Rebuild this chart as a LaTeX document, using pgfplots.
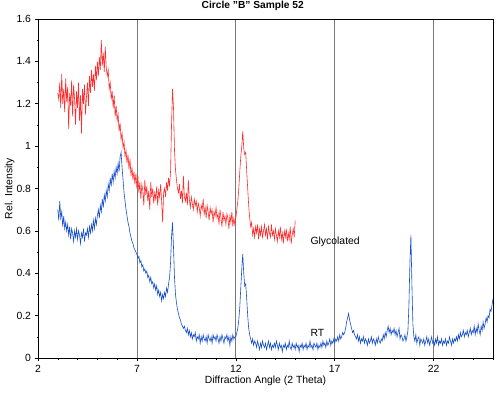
\documentclass[border=0pt]{standalone}
\usepackage{fontspec}
\setmainfont{Liberation Sans}
\usepackage{pgfplots}
\pgfplotsset{compat=1.18}
\usepackage{pgfplotstable}
\definecolor{glyred}{RGB}{255,45,45}
\definecolor{rtblue}{RGB}{25,80,205}
\definecolor{gridgray}{RGB}{120,120,120}

% Glycolated: x = 3.00 + 0.05*i
\pgfplotstableread[row sep=\\]{y\\
1.25\\1.22\\1.30\\1.18\\1.34\\1.20\\1.27\\1.16\\1.32\\1.21\\
1.28\\1.08\\1.25\\1.19\\1.31\\1.14\\1.29\\1.22\\1.10\\1.26\\
1.18\\1.30\\1.12\\1.24\\1.06\\1.27\\1.20\\1.29\\1.15\\1.23\\
1.30\\1.19\\1.33\\1.25\\1.36\\1.28\\1.34\\1.26\\1.38\\1.31\\
1.40\\1.33\\1.42\\1.36\\1.50\\1.38\\1.44\\1.35\\1.47\\1.37\\
1.33\\1.36\\1.27\\1.30\\1.22\\1.26\\1.18\\1.24\\1.14\\1.19\\
1.12\\1.15\\1.07\\1.11\\1.03\\1.06\\0.99\\1.02\\0.95\\0.98\\
0.92\\0.96\\0.89\\0.94\\0.86\\0.90\\0.84\\0.88\\0.82\\0.87\\
0.80\\0.86\\0.78\\0.83\\0.75\\0.82\\0.79\\0.72\\0.84\\0.77\\
0.81\\0.74\\0.79\\0.70\\0.83\\0.76\\0.80\\0.73\\0.78\\0.75\\
0.81\\0.72\\0.79\\0.76\\0.82\\0.74\\0.64\\0.78\\0.80\\0.76\\
0.83\\0.79\\0.85\\0.81\\0.88\\1.10\\1.27\\1.18\\0.98\\0.89\\
0.84\\0.80\\0.78\\0.82\\0.75\\0.79\\0.73\\0.86\\0.76\\0.74\\
0.78\\0.72\\0.84\\0.75\\0.71\\0.76\\0.73\\0.70\\0.75\\0.72\\
0.74\\0.69\\0.73\\0.71\\0.67\\0.72\\0.70\\0.75\\0.68\\0.71\\
0.66\\0.72\\0.69\\0.65\\0.71\\0.68\\0.70\\0.64\\0.69\\0.67\\
0.71\\0.66\\0.68\\0.63\\0.70\\0.66\\0.62\\0.69\\0.65\\0.67\\
0.63\\0.68\\0.66\\0.61\\0.67\\0.64\\0.69\\0.62\\0.66\\0.63\\
0.66\\0.70\\0.74\\0.80\\0.88\\0.95\\1.00\\1.07\\0.99\\0.96\\
0.97\\0.88\\0.80\\0.72\\0.66\\0.62\\0.64\\0.58\\0.61\\0.57\\
0.62\\0.59\\0.63\\0.56\\0.61\\0.58\\0.62\\0.57\\0.60\\0.63\\
0.58\\0.61\\0.56\\0.62\\0.59\\0.57\\0.63\\0.58\\0.60\\0.56\\
0.61\\0.58\\0.55\\0.60\\0.57\\0.62\\0.56\\0.59\\0.54\\0.60\\
0.57\\0.61\\0.55\\0.59\\0.56\\0.62\\0.54\\0.58\\0.61\\0.57\\
0.65\\
}\glyc

% RT: x = 3.00 + 0.05*i
\pgfplotstableread[row sep=\\]{y\\
0.70\\0.65\\0.74\\0.66\\0.69\\0.62\\0.67\\0.61\\0.64\\0.60\\
0.63\\0.58\\0.62\\0.56\\0.61\\0.59\\0.55\\0.60\\0.57\\0.61\\
0.56\\0.60\\0.58\\0.54\\0.59\\0.57\\0.61\\0.55\\0.59\\0.58\\
0.61\\0.57\\0.62\\0.59\\0.63\\0.60\\0.65\\0.61\\0.66\\0.63\\
0.67\\0.70\\0.66\\0.72\\0.69\\0.75\\0.71\\0.77\\0.74\\0.79\\
0.76\\0.82\\0.79\\0.85\\0.81\\0.87\\0.83\\0.88\\0.85\\0.90\\
0.87\\0.92\\0.88\\0.95\\0.97\\0.90\\0.84\\0.78\\0.74\\0.70\\
0.67\\0.64\\0.62\\0.59\\0.57\\0.55\\0.54\\0.52\\0.51\\0.50\\
0.49\\0.47\\0.48\\0.45\\0.46\\0.43\\0.44\\0.41\\0.42\\0.40\\
0.41\\0.38\\0.39\\0.36\\0.38\\0.35\\0.36\\0.33\\0.35\\0.32\\
0.34\\0.30\\0.32\\0.29\\0.31\\0.27\\0.30\\0.28\\0.31\\0.29\\
0.33\\0.31\\0.35\\0.38\\0.45\\0.57\\0.64\\0.52\\0.38\\0.30\\
0.26\\0.23\\0.21\\0.19\\0.18\\0.16\\0.15\\0.14\\0.15\\0.13\\
0.12\\0.14\\0.11\\0.13\\0.10\\0.12\\0.09\\0.11\\0.10\\0.12\\
0.08\\0.10\\0.09\\0.11\\0.07\\0.10\\0.08\\0.11\\0.09\\0.08\\
0.10\\0.07\\0.11\\0.09\\0.08\\0.10\\0.07\\0.11\\0.09\\0.10\\
0.08\\0.11\\0.09\\0.07\\0.10\\0.08\\0.11\\0.09\\0.07\\0.10\\
0.09\\0.11\\0.08\\0.10\\0.06\\0.10\\0.08\\0.11\\0.09\\0.10\\
0.10\\0.12\\0.14\\0.18\\0.24\\0.33\\0.42\\0.49\\0.40\\0.34\\
0.35\\0.28\\0.20\\0.14\\0.11\\0.09\\0.07\\0.09\\0.06\\0.08\\
0.07\\0.05\\0.08\\0.06\\0.04\\0.07\\0.05\\0.08\\0.06\\0.05\\
0.07\\0.04\\0.06\\0.08\\0.05\\0.07\\0.04\\0.06\\0.05\\0.07\\
0.05\\0.08\\0.06\\0.04\\0.07\\0.05\\0.06\\0.03\\0.06\\0.05\\
0.07\\0.04\\0.06\\0.05\\0.08\\0.05\\0.04\\0.07\\0.05\\0.06\\
0.04\\0.07\\0.05\\0.06\\0.03\\0.06\\0.05\\0.07\\0.04\\0.06\\
0.05\\0.07\\0.04\\0.06\\0.05\\0.08\\0.05\\0.06\\0.04\\0.07\\
0.06\\0.05\\0.07\\0.04\\0.06\\0.05\\0.07\\0.05\\0.08\\0.06\\
0.07\\0.05\\0.08\\0.06\\0.07\\0.09\\0.06\\0.08\\0.07\\0.09\\
0.07\\0.09\\0.08\\0.10\\0.08\\0.11\\0.09\\0.10\\0.12\\0.11\\
0.12\\0.14\\0.17\\0.19\\0.21\\0.18\\0.16\\0.14\\0.12\\0.13\\
0.11\\0.10\\0.09\\0.11\\0.08\\0.10\\0.07\\0.09\\0.08\\0.10\\
0.07\\0.09\\0.08\\0.06\\0.09\\0.07\\0.08\\0.10\\0.07\\0.09\\
0.08\\0.06\\0.09\\0.07\\0.10\\0.08\\0.07\\0.09\\0.08\\0.11\\
0.09\\0.12\\0.10\\0.13\\0.15\\0.12\\0.14\\0.11\\0.13\\0.12\\
0.14\\0.11\\0.13\\0.10\\0.12\\0.14\\0.09\\0.11\\0.10\\0.08\\
0.09\\0.11\\0.08\\0.10\\0.13\\0.25\\0.45\\0.58\\0.35\\0.16\\
0.10\\0.08\\0.11\\0.07\\0.09\\0.10\\0.06\\0.09\\0.08\\0.07\\
0.09\\0.06\\0.08\\0.10\\0.07\\0.09\\0.06\\0.08\\0.10\\0.07\\
0.08\\0.06\\0.09\\0.07\\0.10\\0.06\\0.08\\0.07\\0.09\\0.06\\
0.08\\0.07\\0.09\\0.06\\0.08\\0.07\\0.10\\0.08\\0.06\\0.09\\
0.07\\0.09\\0.08\\0.10\\0.08\\0.11\\0.09\\0.12\\0.10\\0.11\\
0.13\\0.10\\0.12\\0.11\\0.13\\0.10\\0.12\\0.14\\0.11\\0.13\\
0.12\\0.15\\0.11\\0.14\\0.12\\0.16\\0.13\\0.11\\0.15\\0.13\\
0.17\\0.14\\0.16\\0.19\\0.17\\0.20\\0.19\\0.23\\0.22\\0.25\\
0.28\\
}\rt

\begin{document}
\begin{tikzpicture}
\begin{axis}[
  name=ax,
  width=455pt, height=339pt, scale only axis,
  xmin=2, xmax=25, ymin=0, ymax=1.6,
  xtick={2,7,12,17,22},
  ytick={0,0.2,0.4,0.6,0.8,1,1.2,1.4,1.6},
  minor xtick={3,4,5,6,8,9,10,11,13,14,15,16,18,19,20,21,23,24,25},
  minor ytick={0.1,0.3,0.5,0.7,0.9,1.1,1.3,1.5},
  tick align=outside, major tick length=3pt, minor tick length=1.5pt,
  tick style={black, line width=0.5pt},
  xtick pos=bottom, ytick pos=left,
  xmajorgrids=true,
  major grid style={gridgray, line width=0.7pt},
  axis line style={black, line width=0.9pt},
  /pgf/number format/assume math mode=true,
  ticklabel style={font=\fontsize{10.4}{12}\selectfont},
  xticklabel style={yshift=-0.5pt},
  yticklabel style={xshift=-0.5pt},
  label style={font=\fontsize{10.4}{12}\selectfont},
  xlabel={Diffraction Angle (2 Theta)},
  xlabel style={yshift=3pt},
  ylabel={Rel. Intensity},
  ylabel style={yshift=-5pt},
  title={Circle "B" Sample 52},
  title style={font=\bfseries\fontsize{10.2}{12}\selectfont, at={(rel axis cs:0.472,1)}, anchor=south, yshift=-1.5pt},
  clip=true,
]
\addplot[glyred, line width=0.6pt] table[x expr={3+0.05*\coordindex}, y=y]{\glyc};
\addplot[rtblue, line width=0.6pt] table[x expr={3+0.05*\coordindex}, y=y]{\rt};
\node[anchor=west, font=\fontsize{10.4}{12}\selectfont] at (axis cs:15.6,0.547) {Glycolated};
\node[anchor=west, font=\fontsize{10.4}{12}\selectfont] at (axis cs:15.6,0.118) {RT};
\end{axis}
\pgfresetboundingbox
\path ([xshift=-38pt,yshift=-38pt]ax.south west) rectangle ([xshift=7pt,yshift=19pt]ax.north east);
\end{tikzpicture}
\end{document}
